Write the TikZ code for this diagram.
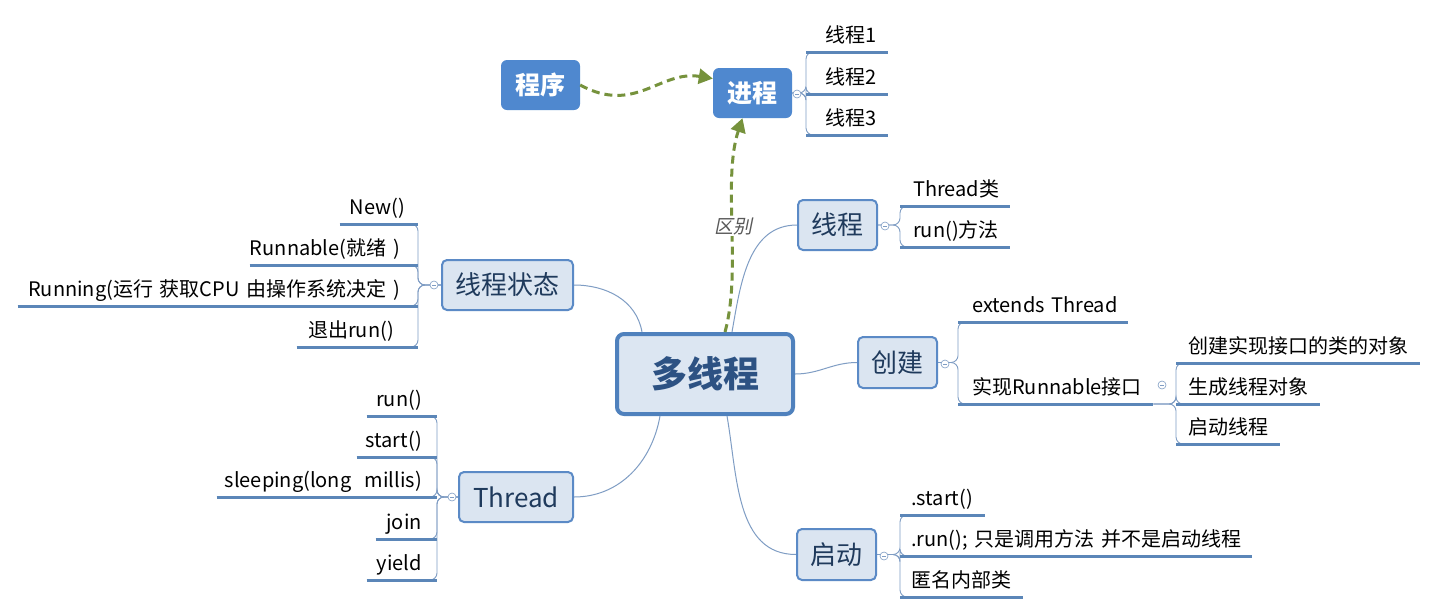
\documentclass[tikz,border=0pt]{standalone}
\usepackage{fontspec}
\setmainfont{Noto Sans CJK SC}
\newfontfamily\slfont[FakeSlant=0.2]{Noto Sans CJK SC}
\usetikzlibrary{arrows.meta,calc}
\definecolor{topicfill}{HTML}{DBE5F1}
\definecolor{topicdraw}{HTML}{5B8AC6}
\definecolor{topictext}{HTML}{1F3A5C}
\definecolor{mainfill}{HTML}{DCE6F2}
\definecolor{maindraw}{HTML}{4F81BD}
\definecolor{maintext}{HTML}{2D5283}
\definecolor{solidfill}{HTML}{4F88CF}
\definecolor{conn}{HTML}{7F9DC4}
\definecolor{uline}{HTML}{5B86B8}
\definecolor{dashg}{HTML}{76923C}
\definecolor{labgray}{HTML}{595959}
\pgfdeclarelayer{bg}
\pgfdeclarelayer{paper}
\pgfsetlayers{paper,bg,main}
\begin{document}
\begin{tikzpicture}[x=1pt,y=1pt,
  topic/.style={draw=topicdraw, fill=topicfill, line width=2, rounded corners=5, text=topictext, font=\fontsize{26}{30}\selectfont, inner sep=0},
  maintopic/.style={draw=maindraw, fill=mainfill, line width=4, rounded corners=7, text=maintext, font=\fontsize{36}{40}\selectfont\bfseries, inner sep=0, minimum width=176, minimum height=80},
  solidtopic/.style={fill=solidfill, rounded corners=6, text=white, font=\fontsize{25}{30}\selectfont\bfseries, inner sep=0, minimum width=79, minimum height=50},
  leafR/.style={text width=#1, align=left, inner xsep=0, inner ysep=9, text depth=0pt, anchor=south west, font=\fontsize{20}{24}\selectfont, text=black},
  leafL/.style={text width=#1, align=right, inner xsep=0, inner ysep=9, text depth=0pt, anchor=south east, font=\fontsize{20}{24}\selectfont, text=black},
  ul/.style={draw=uline, line width=3},
  br/.style={draw=conn, line width=0.9, rounded corners=7},
  link/.style={draw=conn, line width=1},
  fold/.style={circle, draw=conn, fill=white, line width=0.6, minimum size=8, inner sep=0,
    path picture={\draw[conn,line width=0.6] ([xshift=-2]path picture bounding box.center) -- ([xshift=2]path picture bounding box.center);}},
  dashlink/.style={draw=dashg, line width=3, dash pattern=on 8 off 5, -{Triangle[length=14,width=15]}},
  lab/.style={fill=white, inner sep=1, text=labgray, font=\fontsize{19}{22}\selectfont\slfont}
]
\useasboundingbox (0,0) rectangle (1438,-614);
\begin{pgfonlayer}{paper}
\fill[white] (0,0) rectangle (1438,-614);
\end{pgfonlayer}

% main topics
\node[maintopic] (mc) at (705,-374) {多线程};
\node[solidtopic] (cx) at (540.5,-85) {程序};
\node[solidtopic] (jc) at (752.5,-93) {进程};
\node[topic, minimum width=79, minimum height=50] (xc) at (837.5,-225) {线程};
\node[topic, minimum width=131, minimum height=50] (ts) at (507.5,-285) {线程状态};
\node[topic, minimum width=79, minimum height=51] (cj) at (897.5,-362.5) {创建};
\node[topic, minimum width=114, minimum height=50] (th) at (516,-497) {Thread};
\node[topic, minimum width=79, minimum height=51] (qd) at (836.5,-554.5) {启动};

% leaves right
\node[leafR=82] (p1) at (806,-52) {\hspace*{19pt}线程1};
\node[leafR=82] (p2) at (806,-94) {\hspace*{19pt}线程2};
\node[leafR=82] (p3) at (806,-135) {\hspace*{19pt}线程3};
\node[leafR=110] (x1) at (900,-206) {\hspace*{13pt}Thread类};
\node[leafR=110] (x2) at (900,-247) {\hspace*{13pt}run()方法};
\node[leafR=170] (c1) at (958,-322) {\hspace*{14pt}extends Thread};
\node[leafR=195] (c2) at (958,-404) {\hspace*{14pt}实现Runnable接口};
\node[leafR=244] (r1) at (1176,-363) {\hspace*{12pt}创建实现接口的类的对象};
\node[leafR=144] (r2) at (1176,-404) {\hspace*{12pt}生成线程对象};
\node[leafR=104] (r3) at (1176,-444) {\hspace*{12pt}启动线程};
\node[leafR=85] (q1) at (900,-515) {\hspace*{11pt}.start()};
\node[leafR=352] (q2) at (900,-556) {\hspace*{11pt}.run(); 只是调用方法 并不是启动线程};
\node[leafR=123] (q3) at (900,-597) {\hspace*{11pt}匿名内部类};

% leaves left
\node[leafL=78] (s1) at (418,-224) {New()\hspace*{13pt}};
\node[leafL=168] (s2) at (418,-265) {Runnable(就绪 )\hspace*{18pt}};
\node[leafL=400] (s3) at (418,-306) {Running(运行 获取CPU 由操作系统决定 )\hspace*{18pt}};
\node[leafL=121] (s4) at (418,-347) {退出run()\hspace*{24pt}};
\node[leafL=70] (t1) at (437,-416) {run()\hspace*{15pt}};
\node[leafL=80] (t2) at (437,-457) {start()\hspace*{15pt}};
\node[leafL=220] (t3) at (437,-497) {sleeping(long\ \ millis)\hspace*{15pt}};
\node[leafL=61] (t4) at (437,-539) {join\hspace*{15pt}};
\node[leafL=70] (t5) at (437,-580) {yield\hspace*{15pt}};

% underlines
\foreach \n in {p1,p2,p3,x1,x2,c1,c2,r1,r2,r3,q1,q2,q3,s1,s2,s3,s4,t1,t2,t3,t4,t5}
  \draw[ul] (\n.south west) -- (\n.south east);

% brackets and links, under the nodes
\begin{pgfonlayer}{bg}
\foreach \n in {p1,p2,p3}
  \draw[br] (jc.east) -- (jc.east -| \n.south west) |- ([xshift=10]\n.south west);
\foreach \n in {x1,x2}
  \draw[br] (xc.east) -- (xc.east -| \n.south west) |- ([xshift=10]\n.south west);
\foreach \n in {c1,c2}
  \draw[br] (cj.east) -- (cj.east -| \n.south west) |- ([xshift=10]\n.south west);
\foreach \n in {r1,r2,r3}
  \draw[br] (c2.south east) -- (c2.south east -| \n.south west) |- ([xshift=10]\n.south west);
\foreach \n in {q1,q2,q3}
  \draw[br] (qd.east) -- (qd.east -| \n.south west) |- ([xshift=10]\n.south west);
\foreach \n in {s1,s2,s3,s4}
  \draw[br] (ts.west) -- (ts.west -| \n.south east) |- ([xshift=-10]\n.south east);
\foreach \n in {t1,t2,t3,t4,t5}
  \draw[br] (th.west) -- (th.west -| \n.south east) |- ([xshift=-10]\n.south east);

\draw[link] ([xshift=27]mc.north) to[out=80,in=180] (xc.west);
\draw[link] ([xshift=-63]mc.north) to[out=100,in=0] (ts.east);
\draw[link] (mc.east) to[out=0,in=180] (cj.west);
\draw[link] ([xshift=-45]mc.south) to[out=-100,in=0] (th.east);
\draw[link] ([xshift=22]mc.south) to[out=-80,in=180] (qd.west);
\end{pgfonlayer}

% fold markers
\node[fold] (f1) at (797,-94) {};
\node[fold] (f2) at (885,-226) {};
\node[fold] (f3) at (945,-364) {};
\node[fold] (f4) at (1162,-385) {};
\node[fold] (f5) at (884,-556) {};
\node[fold] (f6) at (434,-285) {};
\node[fold] (f7) at (452,-497) {};

% dashed relations
\draw[dashlink] (cx.east) .. controls (635,-115) and (660,-70) .. (jc.160);
\draw[dashlink] ([xshift=20]mc.north) .. controls (742,-270) and (722,-180) .. ([xshift=-10]jc.south);
\node[lab] (qb) at (733,-226) {区别};
\end{tikzpicture}
\end{document}
